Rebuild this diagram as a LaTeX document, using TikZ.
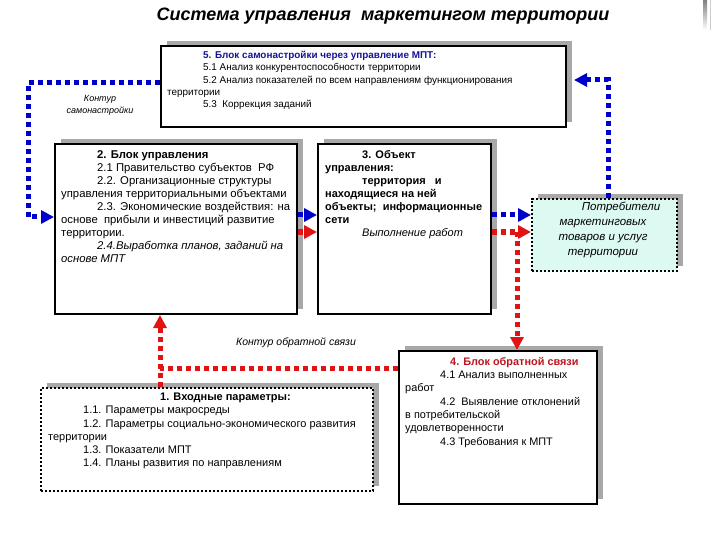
\documentclass[tikz,border=0pt]{standalone}
\usepackage{fontspec}
\setmainfont{Liberation Sans}
\usetikzlibrary{arrows.meta,shadows}
\definecolor{cblue}{RGB}{0,0,205}
\definecolor{cred}{RGB}{225,20,20}
\definecolor{tblue}{RGB}{20,20,150}
\definecolor{tred}{RGB}{190,20,30}
\definecolor{mint}{RGB}{221,250,242}
\definecolor{shade}{RGB}{168,168,168}
\begin{document}
\begin{tikzpicture}[x=1pt,y=-1pt,
  box/.style={draw=black, line width=2pt, fill=white, anchor=north west, inner sep=0pt,
    general shadow={shadow xshift=6pt, shadow yshift=5pt, fill=shade}},
  dbox/.style={box, line width=2.4pt, dash pattern=on 2.2pt off 1.8pt},
  txt/.style={anchor=north west, align=left, inner sep=0pt},
  con/.style={line width=5pt, dash pattern=on 5pt off 4pt},
  bcon/.style={con, draw=cblue, -{Triangle[length=13pt,width=13pt,fill=cblue]}},
  rcon/.style={con, draw=cred, -{Triangle[length=13pt,width=13pt,fill=cred]}},
  rline/.style={con, draw=cred},
  lbl/.style={inner sep=0pt, align=center, font=\itshape\fontsize{9}{12}\selectfont},
]
\useasboundingbox (0,0) rectangle (720,540);
% top right artefact
\fill[shade] (703,0) rectangle (707,30);
\draw[black!20, line width=0.8pt] (710,0) -- (710,30);

% title
\node[inner sep=0pt, font=\bfseries\itshape\fontsize{18}{21}\selectfont] (title) at (383,16)
  {Система управления\ \ маркетингом территории};

% boxes
\node[box, minimum width=242pt, minimum height=170pt] (b2) at (54,143) {};
\node[box, minimum width=405pt, minimum height=81pt] (b5) at (160,45) {};
\node[box, minimum width=173pt, minimum height=170pt] (b3) at (317,143) {};
\node[dbox, fill=mint, minimum width=145pt, minimum height=72pt] (b6) at (531,198) {};
\node[dbox, minimum width=332pt, minimum height=103pt] (b1) at (40,387) {};
\node[box, minimum width=198pt, minimum height=153pt] (b4) at (398,350) {};

% texts
\node[txt, font=\fontsize{9.9}{12.3}\selectfont] (t5) at (167,51) {%
\hspace*{36pt}\textcolor{tblue}{\textbf{5. Блок самонастройки через управление МПТ:}}\\
\hspace*{36pt}5.1 Анализ конкурентоспособности территории\\
\hspace*{36pt}5.2 Анализ показателей по всем направлениям функционирования\\
территории\\
\hspace*{36pt}5.3\ \ Коррекция заданий};

\node[txt, font=\fontsize{11.3}{13}\selectfont] (t2) at (61,150) {%
\hspace*{36pt}\textbf{2. Блок управления}\\
\hspace*{36pt}2.1 Правительство субъектов\ \ РФ\\
\hspace*{36pt}2.2. Организационные структуры\\
управления территориальными объектами\\
\hspace*{36pt}2.3. Экономические воздействия: на\\
основе\ \ прибыли и инвестиций развитие\\
территории.\\
\hspace*{36pt}\textit{2.4.Выработка планов, заданий на}\\
\textit{основе МПТ}};

\node[txt, font=\fontsize{11}{13}\selectfont] (t3) at (325,150) {%
\hspace*{37pt}\textbf{3. Объект}\\
\textbf{управления:}\\
\hspace*{37pt}\textbf{территория\ \ \ и}\\
\textbf{находящиеся на ней}\\
\textbf{объекты;\ \ информационные}\\
\textbf{сети}\\
\hspace*{37pt}\textit{Выполнение работ}};

\node[inner sep=0pt, align=center, font=\itshape\fontsize{11.5}{14.7}\selectfont] (t6) at (603,230) {%
\hspace*{36pt}Потребители\\
маркетинговых\\
товаров и услуг\\
территории};

\node[txt, font=\fontsize{11}{13.2}\selectfont] (t1) at (48,393) {%
\hspace*{112pt}\textbf{1. Входные параметры:}\\
\hspace*{35pt}1.1. Параметры макросреды\\
\hspace*{35pt}1.2. Параметры социально-экономического развития\\
территории\\
\hspace*{35pt}1.3. Показатели МПТ\\
\hspace*{35pt}1.4. Планы развития по направлениям};

\node[txt, font=\fontsize{10.9}{13.3}\selectfont] (t4) at (405,357) {%
\hspace*{45pt}\textcolor{tred}{\textbf{4. Блок обратной связи}}\\
\hspace*{35pt}4.1 Анализ выполненных\\
работ\\
\hspace*{35pt}4.2\ \ Выявление отклонений\\
в потребительской\\
удовлетворенности\\
\hspace*{35pt}4.3 Требования к МПТ};

% labels
\node[lbl] (l1) at (100,105) {Контур\\самонастройки};
\node[lbl, font=\itshape\fontsize{10.5}{12}\selectfont] (l2) at (296,343) {Контур обратной связи};

% coordinates
\coordinate (bl1) at (28,83);
\coordinate (bl2) at (28,217);
\coordinate (bm) at (0,215);
\coordinate (rm) at (0,232);
\coordinate (rj) at (517,232);
\coordinate (bc) at (608,80);
\coordinate (rf) at (160,368);

% connectors
\draw[bcon] (b5.west |- bl1) -- (bl1) -- (bl2) -- (b2.west |- bl2);
\draw[bcon] (b2.east |- bm) -- (b3.west |- bm);
\draw[rcon] (b2.east |- rm) -- (b3.west |- rm);
\draw[bcon] (b3.east |- bm) -- (b6.west |- bm);
\draw[rcon] (b3.east |- rm) -- (b6.west |- rm);
\draw[rcon] (rj) -- (rj |- b4.north);
\draw[bcon] (b6.north -| bc) -- (bc) -- ([xshift=7pt]b5.east |- bc);
\draw[rline] (b4.west |- rf) -- (rf);
\draw[rcon] (b1.north -| rf) -- (b2.south -| rf);
\end{tikzpicture}
\end{document}
